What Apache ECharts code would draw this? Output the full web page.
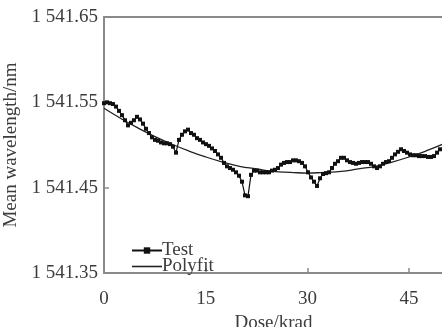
<!DOCTYPE html>
<html>
<head>
<meta charset="utf-8">
<script src="https://cdn.jsdelivr.net/npm/echarts@6/dist/echarts.min.js"></script>
<style>
  html, body { margin: 0; padding: 0; background: #fff; }
  #chart { width: 442px; height: 327px; }
</style>
</head>
<body>
<div id="chart"></div>
<script>
// dose (krad) of each measured point
const testDose = [
  0.00, 0.44, 0.88, 1.33, 1.77, 2.21, 2.65, 3.10, 3.54, 3.98,
  4.42, 4.87, 5.31, 5.75, 6.19, 6.64, 7.08, 7.52, 7.96, 8.41,
  8.85, 9.29, 9.73, 10.18, 10.62, 11.06, 11.50, 11.95, 12.39, 12.83,
  13.27, 13.72, 14.16, 14.60, 15.04, 15.49, 15.93, 16.37, 16.81, 17.26,
  17.70, 18.14, 18.58, 19.03, 19.47, 19.91, 20.35, 20.80, 21.24, 21.68,
  22.12, 22.57, 23.01, 23.45, 23.89, 24.34, 24.78, 25.22, 25.66, 26.11,
  26.55, 26.99, 27.43, 27.88, 28.32, 28.76, 29.20, 29.65, 30.09, 30.53,
  30.97, 31.42, 31.86, 32.30, 32.74, 33.19, 33.63, 34.07, 34.51, 34.96,
  35.40, 35.84, 36.28, 36.73, 37.17, 37.61, 38.05, 38.50, 38.94, 39.38,
  39.82, 40.27, 40.71, 41.15, 41.59, 42.04, 42.48, 42.92, 43.36, 43.81,
  44.25, 44.69, 45.13, 45.58, 46.02, 46.46, 46.90, 47.35, 47.79, 48.23,
  48.67, 49.12, 49.56
]
// mean wavelength (nm) of each measured point
const testWave = [
  1541.549, 1541.550, 1541.549, 1541.548, 1541.545, 1541.540, 1541.535, 1541.529, 1541.523, 1541.526,
  1541.529, 1541.533, 1541.530, 1541.525, 1541.519, 1541.514, 1541.509, 1541.506, 1541.505, 1541.503,
  1541.502, 1541.502, 1541.501, 1541.498, 1541.491, 1541.506, 1541.512, 1541.516, 1541.518, 1541.514,
  1541.512, 1541.508, 1541.506, 1541.503, 1541.501, 1541.499, 1541.496, 1541.493, 1541.489, 1541.485,
  1541.479, 1541.475, 1541.473, 1541.471, 1541.468, 1541.464, 1541.457, 1541.441, 1541.440, 1541.465,
  1541.470, 1541.470, 1541.468, 1541.468, 1541.468, 1541.468, 1541.470, 1541.471, 1541.473, 1541.477,
  1541.479, 1541.480, 1541.480, 1541.482, 1541.482, 1541.481, 1541.479, 1541.475, 1541.468, 1541.462,
  1541.457, 1541.452, 1541.461, 1541.466, 1541.467, 1541.468, 1541.473, 1541.478, 1541.481, 1541.485,
  1541.485, 1541.482, 1541.480, 1541.479, 1541.478, 1541.479, 1541.480, 1541.480, 1541.480, 1541.478,
  1541.475, 1541.473, 1541.475, 1541.478, 1541.480, 1541.481, 1541.485, 1541.489, 1541.492, 1541.495,
  1541.493, 1541.491, 1541.489, 1541.488, 1541.488, 1541.487, 1541.487, 1541.487, 1541.486, 1541.486,
  1541.487, 1541.491, 1541.495
]
// polyfit curve
const fitDose = [0, 2.5, 5, 7.5, 10, 12.5, 15, 17.5, 20, 22.5, 25, 27.5, 30, 32.5, 35, 37.5, 40, 42.5, 45, 47.5, 50]
const fitWave = [
  1541.543, 1541.531, 1541.520, 1541.510, 1541.501, 1541.493, 1541.486, 1541.480, 1541.475, 1541.472,
  1541.469, 1541.468, 1541.467, 1541.468, 1541.469, 1541.472, 1541.475, 1541.480, 1541.486, 1541.493,
  1541.501
]
const xTicks = [0, 15, 30, 45]

const FONT = '"Liberation Serif", "DejaVu Serif", serif'
const TEXT = '#3c3c3c'
const AXIS = '#8a8a8a'

const chart = echarts.init(document.getElementById('chart'))

chart.setOption({
  animation: false,
  grid: {
    left: 104, right: -1, top: 17, bottom: 54,
    outerBoundsMode: 'none', containLabel: false,
    show: true, borderColor: AXIS, borderWidth: 2, backgroundColor: 'transparent'
  },
  legend: {
    orient: 'vertical',
    left: 126, top: 236,
    itemWidth: 30, itemHeight: 8, itemGap: -3,
    textStyle: { fontFamily: FONT, fontSize: 19, lineHeight: 16, color: TEXT, padding: [0, 0, 0, -5] },
    data: [
      { name: 'Test' },
      { name: 'Polyfit', icon: 'path://M0,0L30,0L30,1.6L0,1.6Z' }
    ]
  },
  xAxis: {
    type: 'value', min: 0, max: 50, interval: 15,
    name: 'Dose/krad', nameLocation: 'middle', nameGap: 31,
    nameTextStyle: { fontFamily: FONT, fontSize: 19, color: TEXT },
    axisLine: { show: true, onZero: false, lineStyle: { color: AXIS, width: 2 } },
    axisTick: { show: true, inside: true, length: 5, lineStyle: { color: AXIS, width: 1.5 } },
    axisLabel: {
      fontFamily: FONT, fontSize: 19, color: TEXT, margin: 17,
      showMaxLabel: false,
      formatter: v => (xTicks.includes(v) ? String(v) : '')
    },
    splitLine: { show: false }
  },
  yAxis: {
    type: 'value', min: 1541.35, max: 1541.65, interval: 0.1,
    name: 'Mean wavelength/nm', nameLocation: 'middle', nameGap: 77,
    nameTextStyle: { fontFamily: FONT, fontSize: 19, color: TEXT },
    axisLine: { show: true, lineStyle: { color: AXIS, width: 2 } },
    axisTick: { show: true, inside: true, length: 5, lineStyle: { color: AXIS, width: 1.5 } },
    axisLabel: {
      fontFamily: FONT, fontSize: 19, color: TEXT, margin: 6,
      formatter: v => {
        const s = v.toFixed(2)
        return s.slice(0, 1) + ' ' + s.slice(1)
      }
    },
    splitLine: { show: false }
  },
  series: [
    {
      name: 'Test',
      type: 'line',
      data: testDose.map((d, i) => [d, testWave[i]]),
      symbol: 'rect', symbolSize: 4,
      itemStyle: { color: '#111' },
      lineStyle: { color: '#111', width: 1.2 }
    },
    {
      name: 'Polyfit',
      type: 'line',
      data: fitDose.map((d, i) => [d, fitWave[i]]),
      smooth: true,
      symbol: 'none',
      itemStyle: { color: '#222' },
      lineStyle: { color: '#222', width: 1.3 }
    }
  ]
})
</script>
</body>
</html>
